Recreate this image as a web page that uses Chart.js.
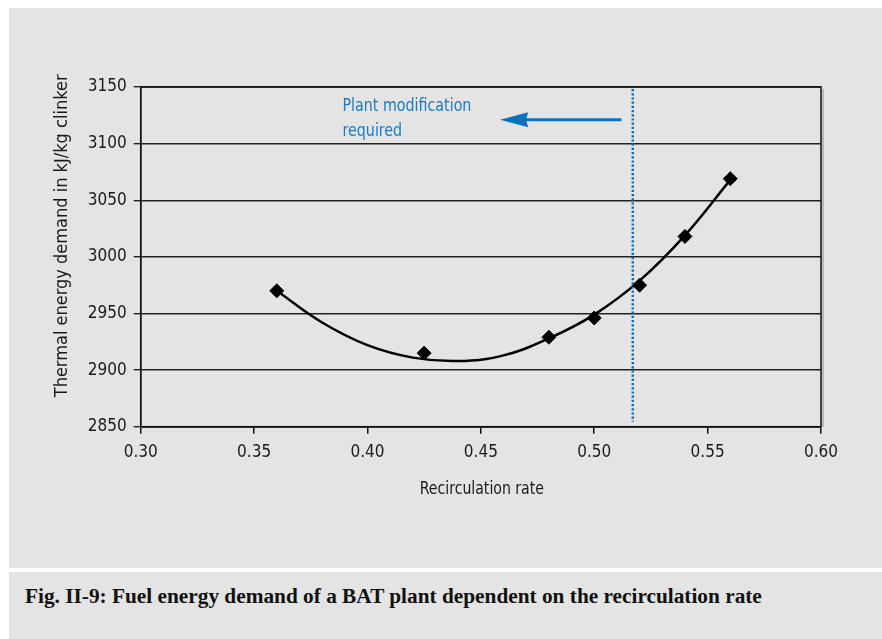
<!DOCTYPE html>
<html>
<head>
<meta charset="utf-8">
<script src="https://cdn.jsdelivr.net/npm/chart.js@4.4.1/dist/chart.umd.min.js"></script>
<style>
    body { margin: 0; background: #fff; width: 882px; height: 639px; overflow: hidden; position: relative; }
    #panel { position: absolute; left: 9px; top: 8px; width: 873px; height: 560px; background: #e3e4e3; }
    #capPanel { position: absolute; left: 9px; top: 572px; width: 873px; height: 67px; background: #e3e4e3; }
    #caption {
        position: absolute; left: 16px; top: 13px; white-space: nowrap;
        font: bold 20px 'Liberation Serif', 'DejaVu Serif', serif; color: #111;
        transform-origin: left top;
    }
    canvas { position: absolute; left: 0; top: 0; }
</style>
</head>
<body>
<div id="panel"><canvas id="fuelChart" width="873" height="560"></canvas></div>
<div id="capPanel"><div id="caption">Fig. II-9: Fuel energy demand of a BAT plant dependent on the recirculation rate</div></div>
<script>
// Measured points (recirculation rate vs. thermal energy demand)
const rates = [0.36, 0.425, 0.48, 0.50, 0.52, 0.54, 0.56];
const demand = [2970, 2915, 2929, 2946, 2975, 3018, 3069];

// Trend curve
const trendRates = [0.36, 0.38, 0.40, 0.42, 0.44, 0.46, 0.48, 0.50, 0.52, 0.54, 0.56];
const trendDemand = [2970, 2942, 2922, 2911, 2908, 2913, 2928, 2949, 2979, 3019, 3068];

// Axis ticks
const xTicks = [0.30, 0.35, 0.40, 0.45, 0.50, 0.55, 0.60];
const yTicks = [2850, 2900, 2950, 3000, 3050, 3100, 3150];

// Limit from where on a plant modification is required
const limitRate = 0.517;
const noteLines = ['Plant modification', 'required'];
const arrowFrom = [0.512, 3121];
const arrowTo = [0.4585, 3121];

const FONT = "'DejaVu Sans Condensed', 'DejaVu Sans', sans-serif";
const BLUE = '#0b72be';

// text squeezed sideways, the reference uses a narrow face
function narrowText(ctx, text, x, y, sx) {
    ctx.save();
    ctx.translate(x, y);
    ctx.scale(sx, 1);
    ctx.fillText(text, 0, 0);
    ctx.restore();
}

// Plot frame, limit line, arrow, note and axis titles
const extrasPlugin = {
    id: 'extras',
    afterDatasetsDraw(chart) {
        const { ctx, chartArea: a, scales: { x, y } } = chart;
        ctx.save();

        // dotted limit line
        const lx = x.getPixelForValue(limitRate);
        ctx.strokeStyle = BLUE;
        ctx.lineWidth = 2.5;
        ctx.setLineDash([2.2, 2]);
        ctx.beginPath();
        ctx.moveTo(lx, a.top + 2);
        ctx.lineTo(lx, a.bottom - 5);
        ctx.stroke();
        ctx.setLineDash([]);

        // arrow
        const x0 = x.getPixelForValue(arrowFrom[0]);
        const x1 = x.getPixelForValue(arrowTo[0]);
        const ay = y.getPixelForValue(arrowFrom[1]);
        ctx.lineWidth = 3;
        ctx.beginPath();
        ctx.moveTo(x0, ay);
        ctx.lineTo(x1 + 20, ay);
        ctx.stroke();
        ctx.fillStyle = BLUE;
        ctx.beginPath();
        ctx.moveTo(x1, ay);
        ctx.lineTo(x1 + 28, ay - 7.5);
        ctx.lineTo(x1 + 26, ay);
        ctx.lineTo(x1 + 28, ay + 7.5);
        ctx.closePath();
        ctx.fill();

        // note text
        ctx.fillStyle = '#1a7bc4';
        ctx.font = '18px ' + FONT;
        ctx.textAlign = 'left';
        ctx.textBaseline = 'alphabetic';
        narrowText(ctx, noteLines[0], x.getPixelForValue(0.389), y.getPixelForValue(3129), 0.88);
        narrowText(ctx, noteLines[1], x.getPixelForValue(0.389), y.getPixelForValue(3107), 0.88);

        // plot frame
        ctx.strokeStyle = '#111';
        ctx.lineWidth = 1.5;
        ctx.strokeRect(a.left, a.top, a.right - a.left, a.bottom - a.top);
        ctx.strokeStyle = 'rgba(0,0,0,0.25)';
        ctx.beginPath();
        ctx.moveTo(a.right + 2, a.top + 2);
        ctx.lineTo(a.right + 2, a.bottom);
        ctx.stroke();

        // axis titles
        ctx.fillStyle = '#1a1a1a';
        ctx.font = '18px ' + FONT;
        ctx.textAlign = 'center';
        ctx.textBaseline = 'middle';
        narrowText(ctx, 'Recirculation rate', (a.left + a.right) / 2 + 1, a.bottom + 63, 0.87);
        ctx.translate(a.left - 78, (a.top + a.bottom) / 2 - 21);
        ctx.rotate(-Math.PI / 2);
        ctx.fillText('Thermal energy demand in kJ/kg clinker', 0, 0);
        ctx.restore();
    }
};

const ctx = document.getElementById('fuelChart').getContext('2d');
new Chart(ctx, {
    type: 'scatter',
    data: {
        datasets: [
            {
                label: 'Trend',
                data: trendRates.map((r, i) => ({ x: r, y: trendDemand[i] })),
                showLine: true,
                borderColor: '#000',
                borderWidth: 2.5,
                pointRadius: 0,
                tension: 0.4,
                order: 2
            },
            {
                label: 'Measured',
                data: rates.map((r, i) => ({ x: r, y: demand[i] })),
                pointStyle: 'rectRot',
                pointRadius: 7,
                backgroundColor: '#000',
                borderColor: '#000',
                order: 1
            }
        ]
    },
    options: {
        responsive: false,
        animation: false,
        devicePixelRatio: 1,
        layout: { padding: { top: 79, right: 61, left: 0, bottom: 0 } },
        plugins: {
            legend: { display: false },
            tooltip: { enabled: false }
        },
        scales: {
            x: {
                type: 'linear',
                min: xTicks[0],
                max: xTicks[xTicks.length - 1],
                afterBuildTicks: s => { s.ticks = xTicks.map(v => ({ value: v })); },
                afterFit: s => { s.height = 141.3; },
                grid: { drawOnChartArea: false, drawTicks: true, tickLength: 7, color: '#111', lineWidth: 1.5 },
                border: { color: '#111', width: 1.5 },
                ticks: {
                    padding: 9,
                    color: '#1a1a1a',
                    font: { family: FONT, size: 17 },
                    callback: v => v.toFixed(2)
                }
            },
            y: {
                min: yTicks[0],
                max: yTicks[yTicks.length - 1],
                afterBuildTicks: s => { s.ticks = yTicks.map(v => ({ value: v })); },
                afterFit: s => { s.width = 131.7; },
                grid: { color: '#222', lineWidth: 1.4, tickLength: 7 },
                border: { color: '#111', width: 1.5 },
                ticks: {
                    padding: 7,
                    color: '#1a1a1a',
                    font: { family: FONT, size: 17 },
                    callback: v => String(v)
                }
            }
        }
    },
    plugins: [extrasPlugin]
});

// squeeze caption to the reference width
const cap = document.getElementById('caption');
cap.style.transform = 'scaleX(' + (737 / cap.offsetWidth) + ')';
</script>
</body>
</html>
